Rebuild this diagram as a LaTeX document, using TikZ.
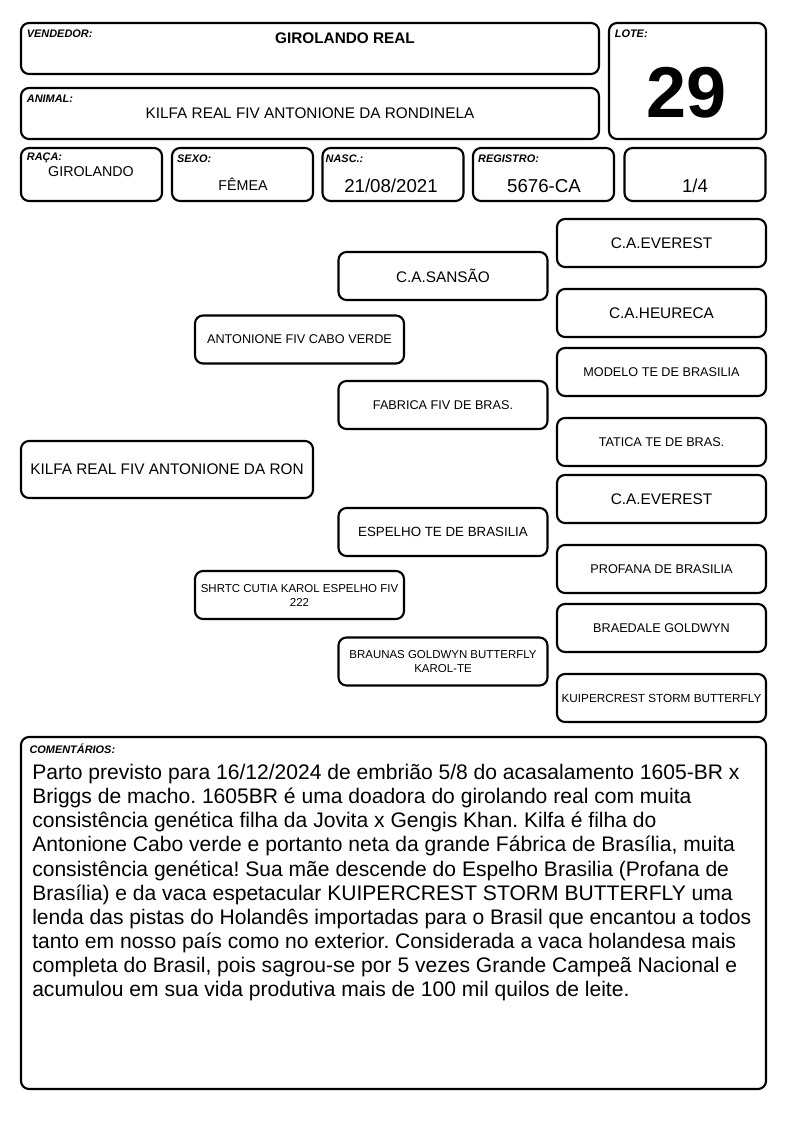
\documentclass[tikz,border=0pt]{standalone}
\usepackage{fontspec}
\setmainfont{Liberation Sans}
\usetikzlibrary{positioning}
\frenchspacing

\begin{document}
\begin{tikzpicture}[
    x=0.75pt, y=-0.75pt,
    box/.style={draw, line width=1.6pt, rounded corners=6pt, align=center, inner sep=1pt},
    field/.style={box, minimum width=105.75pt, minimum height=39.75pt},
    ped/.style={box, minimum width=156.75pt, minimum height=36pt, font=\fontsize{9.5}{11}\selectfont},
    big/.style={font=\fontsize{11.5}{13}\selectfont},
    tiny/.style={font=\fontsize{8.6}{10.5}\selectfont},
    tag/.style={inner sep=0pt, font=\fontsize{8.2}{9}\selectfont\bfseries\itshape},
    val/.style={inner sep=0pt, font=\fontsize{10.7}{12}\selectfont},
    num/.style={inner sep=0pt, font=\fontsize{14}{16}\selectfont}
]
\useasboundingbox (0,0) rectangle (794,1123);

% cabecalho
\node[box, minimum width=433.5pt, minimum height=38.25pt] (vend) at (310,48.5) {};
\node[box, minimum width=117.75pt, minimum height=87pt] (lote) at (687.5,81) {};
\node[box, minimum width=433.5pt, minimum height=38.25pt] (animal) at (310,113.5) {};
\node[field] (raca) at (91.5,174.5) {};
\node[field] (sexo) at (242.5,174.5) {};
\node[field] (nasc) at (393,174.5) {};
\node[field] (reg) at (543.5,174.5) {};
\node[field] (frac) at (695,174.5) {};

\node[tag, below right=6pt and 5pt of vend.north west] {VENDEDOR:};
\node[tag, below right=6pt and 5pt of lote.north west] {LOTE:};
\node[tag, below right=5.5pt and 5pt of animal.north west] {ANIMAL:};
\node[tag, below right=4.5pt and 5pt of raca.north west] {RAÇA:};
\node[tag, below right=5.5pt and 4.5pt of sexo.north west] {SEXO:};
\node[tag, below right=5.5pt and 3pt of nasc.north west] {NASC.:};
\node[tag, below right=5.5pt and 4.5pt of reg.north west] {REGISTRO:};

\node[val, font=\fontsize{11.5}{13}\selectfont\bfseries] (vendv) at (345,38) {GIROLANDO REAL};
\node[inner sep=0pt, font=\fontsize{54}{60}\selectfont\bfseries] (lotev) at (687,93) {29};
\node[val, font=\fontsize{11.5}{13}\selectfont] (animalv) at (310,113) {KILFA REAL FIV ANTONIONE DA RONDINELA};
\node[val] (racav) at (91,172) {GIROLANDO};
\node[val] (sexov) at (243,184) {FÊMEA};
\node[num] (nascv) at (391,186) {21/08/2021};
\node[num] (regv) at (544,186) {5676-CA};
\node[num] (fracv) at (695,186) {1/4};

% genealogia
\node[box, minimum width=219pt, minimum height=42.75pt, font=\fontsize{11.5}{14}\selectfont] (kilfa) at (167,469.5) {KILFA REAL FIV ANTONIONE DA RON};

\node[ped] (pai) at (299.5,339.5) {ANTONIONE FIV CABO VERDE};
\node[ped, tiny] (mae) at (299.5,595) {SHRTC CUTIA KAROL ESPELHO FIV\\222};

\node[ped, big] (avop) at (443,276) {C.A.SANSÃO};
\node[ped] (avap) at (443,405) {FABRICA FIV DE BRAS.};
\node[ped, font=\fontsize{10}{12}\selectfont] (avom) at (443,532) {ESPELHO TE DE BRASILIA};
\node[ped, tiny] (avam) at (443,661.5) {BRAUNAS GOLDWYN BUTTERFLY\\KAROL-TE};

\node[ped, big] (bis1) at (661.5,243) {C.A.EVEREST};
\node[ped, big] (bis2) at (661.5,313) {C.A.HEURECA};
\node[ped] (bis3) at (661.5,372) {MODELO TE DE BRASILIA};
\node[ped] (bis4) at (661.5,442) {TATICA TE DE BRAS.};
\node[ped, big] (bis5) at (661.5,499) {C.A.EVEREST};
\node[ped] (bis6) at (661.5,569) {PROFANA DE BRASILIA};
\node[ped] (bis7) at (661.5,628) {BRAEDALE GOLDWYN};
\node[ped, font=\fontsize{8.8}{10}\selectfont] (bis8) at (661.5,698) {KUIPERCREST STORM BUTTERFLY};

% comentarios
\node[box, minimum width=558.75pt, minimum height=264pt] (coment) at (393.5,913) {};
\node[tag, below right=5.5pt and 7pt of coment.north west] {COMENTÁRIOS:};
\node[inner sep=0pt, anchor=north west, align=left, font=\fontsize{15.8}{18.1}\selectfont] (comentv) at (32,764) {%
Parto previsto para 16/12/2024 de embrião 5/8 do acasalamento 1605-BR x\\
Briggs de macho. 1605BR é uma doadora do girolando real com muita\\
consistência genética filha da Jovita x Gengis Khan. Kilfa é filha do\\
Antonione Cabo verde e portanto neta da grande Fábrica de Brasília, muita\\
consistência genética! Sua mãe descende do Espelho Brasilia (Profana de\\
Brasília) e da vaca espetacular KUIPERCREST STORM BUTTERFLY uma\\
lenda das pistas do Holandês importadas para o Brasil que encantou a todos\\
tanto em nosso país como no exterior. Considerada a vaca holandesa mais\\
completa do Brasil, pois sagrou-se por 5 vezes Grande Campeã Nacional e\\
acumulou em sua vida produtiva mais de 100 mil quilos de leite.};
\end{tikzpicture}
\end{document}
